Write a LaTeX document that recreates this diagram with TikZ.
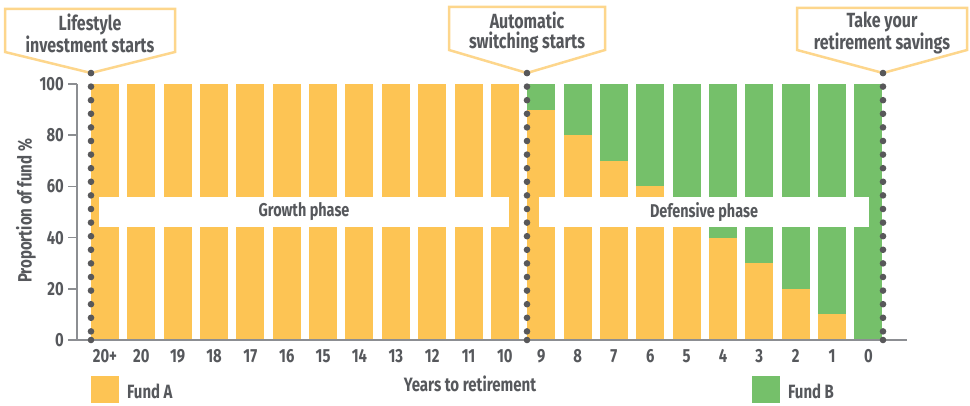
\documentclass[tikz,border=0pt]{standalone}
\usepackage{fontspec}
\setmainfont{Fira Sans}[FakeStretch=0.78]
\definecolor{fundA}{RGB}{253,196,84}
\definecolor{fundB}{RGB}{117,192,106}
\definecolor{txt}{RGB}{86,88,92}
\definecolor{dotc}{RGB}{88,88,90}
\definecolor{calloutc}{RGB}{253,214,140}
\definecolor{axisc}{RGB}{140,142,146}
\tikzset{
  callout/.style={draw=calloutc, line width=2.5pt, line join=miter, fill=white},
  calltext/.style={font=\bfseries\fontsize{20.5}{20}\selectfont, text=txt, align=center, inner sep=0pt},
  ticklab/.style={font=\bfseries\fontsize{19}{20}\selectfont, text=txt, inner sep=0pt},
  axisline/.style={draw=axisc, line width=1.5pt},
  bandbox/.style={fill=white, inner sep=0pt, minimum height=30pt, font=\bfseries\fontsize{18.5}{20}\selectfont, text=txt},
  titlelab/.style={font=\bfseries\fontsize{19.3}{20}\selectfont, text=txt, inner sep=0pt},
  legendlab/.style={font=\bfseries\fontsize{19.2}{20}\selectfont, text=txt, inner sep=0pt, anchor=west},
}
\begin{document}
\begin{tikzpicture}[x=1pt,y=-1pt]
\useasboundingbox (0,0) rectangle (970,406);
% bars
\foreach \i in {0,...,21} {
  \pgfmathsetmacro\L{91+36.35*\i}
  \pgfmathsetmacro\R{\L+28}
  \pgfmathsetmacro\A{\i<12 ? 100 : 100-10*(\i-11)}
  \pgfmathsetmacro\T{340-2.56*\A}
  \fill[fundB] (\L,84) rectangle (\R,340);
  \fill[fundA] (\L,\T) rectangle (\R,340);
}
% phase bands
\node[bandbox, minimum width=410pt] (growth) at (304,212) {Growth phase};
\node[bandbox, minimum width=330pt] (defensive) at (704,212) {Defensive phase};
% axes
\coordinate (yaxtop) at (77,84);
\coordinate (yaxbot) at (77,340);
\coordinate (xaxl) at (68,340);
\coordinate (xaxr) at (907,340);
\draw[axisline] (yaxtop) -- (yaxbot);
\draw[axisline] (xaxl) -- (xaxr);
\foreach \p in {0,20,...,100} {
  \pgfmathsetmacro\Y{340-2.56*\p}
  \draw[axisline] (68,\Y) -- (77,\Y);
  \node[ticklab, anchor=east] (yl\p) at (64,\Y) {\p};
}
\foreach \t [count=\k from 0] in {20+,20,19,18,17,16,15,14,13,12,11,10,9,8,7,6,5,4,3,2,1,0} {
  \pgfmathsetmacro\C{91+36.35*\k+14}
  \node[ticklab] (xl\k) at (\C,356) {\t};
}
% dotted markers
\foreach \xx/\n in {91/1,527/2,883/3} {
  \coordinate (top\n) at (\xx,73);
  \coordinate (bot\n) at (\xx,340);
  \foreach \k in {0,...,19} \fill[dotc] (\xx,73+13.6*\k) circle (3.3pt);
  \fill[dotc] (bot\n) circle (3.3pt);
}
% callouts
\draw[callout] (5,9) -- (175,9) -- (175,52) -- (top1) -- (5,52) -- cycle;
\node[calltext] (c1) at (90,33) {Lifestyle\\investment starts};
\draw[callout] (449,7) -- (605,7) -- (605,50) -- (top2) -- (449,50) -- cycle;
\node[calltext] (c2) at (527,32) {Automatic\\switching starts};
\draw[callout] (797,8) -- (967,8) -- (967,50) -- (top3) -- (797,50) -- cycle;
\node[calltext] (c3) at (882,33) {Take your\\retirement savings};
\fill[dotc] (top1) circle (3.3pt);
\fill[dotc] (top2) circle (3.3pt);
\fill[dotc] (top3) circle (3.3pt);
% titles
\node[titlelab] (xtitle) at (470,384) {Years to retirement};
\node[titlelab, rotate=90] (ytitle) at (26,211) {Proportion of fund \%};
% legend
\fill[fundA] (91,376) rectangle (119,403);
\node[legendlab] (legA) at (127,391.5) {Fund A};
\fill[fundB] (752,376) rectangle (780,403);
\node[legendlab] (legB) at (788,391.5) {Fund B};
\end{tikzpicture}
\end{document}
